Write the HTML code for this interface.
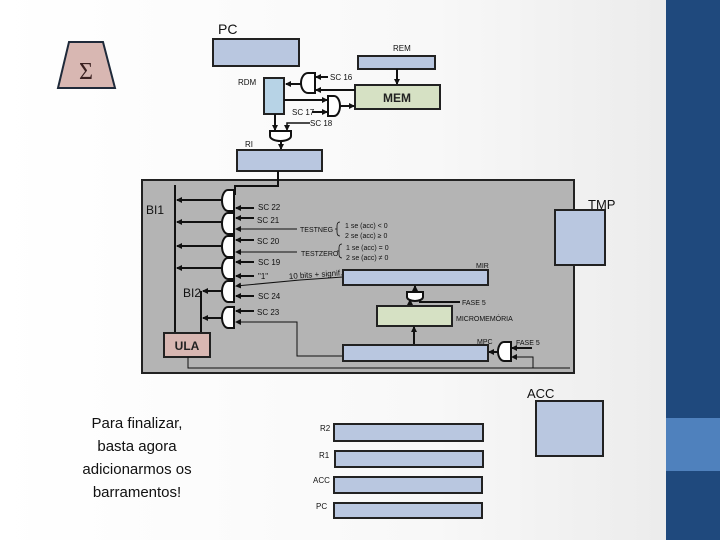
<!DOCTYPE html>
<html><head><meta charset="utf-8"><style>
html,body{margin:0;padding:0;}
body{width:720px;height:540px;overflow:hidden;background:linear-gradient(90deg,#ffffff 0%,#f8f8f8 60%,#ececec 92%);font-family:"Liberation Sans",sans-serif;}
svg{position:absolute;left:0;top:0;}
.s{font-family:"Liberation Sans",sans-serif;font-size:8px;fill:#111;}
</style></head><body>
<svg width="720" height="540" viewBox="0 0 720 540">
<defs>
<marker id="a" markerWidth="6" markerHeight="6" refX="5" refY="3" orient="auto" markerUnits="userSpaceOnUse"><path d="M0,0L6,3L0,6Z" fill="#111"/></marker>
</defs>
<rect x="666" y="0" width="54" height="540" fill="#1f497d"/>
<rect x="666" y="418" width="54" height="53" fill="#4f81bd"/>

<path d="M69,42H103L115,88H58Z" fill="#d8b7b2" stroke="#1f2a3a" stroke-width="2"/>
<text x="86" y="79" font-family="Liberation Serif,serif" font-size="24" fill="#3a2020" text-anchor="middle">Σ</text>

<text x="218" y="34" font-size="14" fill="#111">PC</text>
<rect x="213" y="39" width="86" height="27" fill="#b9c7e0" stroke="#222" stroke-width="2"/>
<text x="393" y="51" class="s">REM</text>
<rect x="358" y="56" width="77" height="13" fill="#b9c7e0" stroke="#222" stroke-width="2"/>
<line x1="397" y1="69" x2="397" y2="84" stroke="#111" stroke-width="2" marker-end="url(#a)"/>
<rect x="355" y="85" width="85" height="24" fill="#d6e1c4" stroke="#222" stroke-width="2"/>
<text x="397" y="102" font-size="12" font-weight="bold" fill="#222" text-anchor="middle">MEM</text>
<text x="238" y="85" class="s">RDM</text>
<rect x="264" y="78" width="20" height="36" fill="#b7d3e6" stroke="#222" stroke-width="2"/>
<path d="M315,73H308A7,10 0 0 0 308,93H315Z" fill="#fff" stroke="#111" stroke-width="2"/>
<line x1="301" y1="84" x2="286" y2="84" stroke="#111" stroke-width="2" marker-end="url(#a)"/>
<line x1="328" y1="77" x2="316" y2="77" stroke="#111" stroke-width="2" marker-end="url(#a)"/>
<line x1="355" y1="90" x2="316" y2="90" stroke="#111" stroke-width="2" marker-end="url(#a)"/>
<text x="330" y="80" class="s">SC 16</text>
<path d="M328,96H334A6,10 0 0 1 334,116H328Z" fill="#fff" stroke="#111" stroke-width="2"/>
<line x1="284" y1="100" x2="327" y2="100" stroke="#111" stroke-width="2" marker-end="url(#a)"/>
<line x1="312" y1="112" x2="327" y2="112" stroke="#111" stroke-width="2" marker-end="url(#a)"/>
<line x1="340" y1="106" x2="354" y2="106" stroke="#111" stroke-width="2" marker-end="url(#a)"/>
<text x="292" y="115" class="s">SC 17</text>
<path d="M270,131H291V136A10.5,5 0 0 1 270,136Z" fill="#fff" stroke="#111" stroke-width="2"/>
<line x1="275" y1="114" x2="275" y2="130" stroke="#111" stroke-width="2" marker-end="url(#a)"/>
<polyline points="310,123 287,123 287,130" fill="none" stroke="#111" stroke-width="1.5" marker-end="url(#a)"/>
<text x="310" y="126" class="s">SC 18</text>
<line x1="281" y1="141" x2="281" y2="149" stroke="#111" stroke-width="2" marker-end="url(#a)"/>
<text x="245" y="147" class="s">RI</text>
<rect x="237" y="150" width="85" height="21" fill="#b9c7e0" stroke="#222" stroke-width="2"/>

<rect x="142" y="180" width="432" height="193" fill="#b4b4b4" stroke="#222" stroke-width="2"/>
<polyline points="278,171 278,186 235,186 235,195" fill="none" stroke="#111" stroke-width="2"/>
<text x="146" y="214" font-size="12" fill="#111">BI1</text>
<line x1="175" y1="185" x2="175" y2="333" stroke="#111" stroke-width="2"/>
<text x="183" y="297" font-size="12" fill="#111">BI2</text>
<line x1="201" y1="291" x2="201" y2="333" stroke="#111" stroke-width="2"/>
<rect x="164" y="333" width="46" height="24" fill="#d8b7b2" stroke="#222" stroke-width="2"/>
<text x="187" y="350" font-size="12" font-weight="bold" fill="#222" text-anchor="middle">ULA</text>
<polyline points="188,357 188,368 570,368" fill="none" stroke="#111" stroke-width="1"/>

<g stroke="#111" stroke-width="2" fill="#fff">
<path d="M234,190H228A6,10.5 0 0 0 228,211H234Z"/>
<path d="M234,213H228A6,10.5 0 0 0 228,234H234Z"/>
<path d="M234,236H228A6,10.5 0 0 0 228,257H234Z"/>
<path d="M234,258H228A6,10.5 0 0 0 228,279H234Z"/>
<path d="M234,281H228A6,10.5 0 0 0 228,302H234Z"/>
<path d="M234,307H228A6,10.5 0 0 0 228,328H234Z"/>
</g>
<g stroke="#111" stroke-width="2" marker-end="url(#a)">
<line x1="222" y1="200" x2="177" y2="200"/>
<line x1="222" y1="222" x2="177" y2="222"/>
<line x1="222" y1="246" x2="177" y2="246"/>
<line x1="222" y1="268" x2="177" y2="268"/>
<line x1="222" y1="291" x2="203" y2="291"/>
<line x1="222" y1="318" x2="203" y2="318"/>
<line x1="254" y1="208" x2="236" y2="208"/>
<line x1="254" y1="218" x2="236" y2="218"/>
<line x1="254" y1="240" x2="236" y2="240"/>
<line x1="254" y1="262" x2="236" y2="262"/>
<line x1="254" y1="276" x2="236" y2="276"/>
<line x1="254" y1="296" x2="236" y2="296"/>
<line x1="254" y1="311" x2="236" y2="311"/>
</g>
<g stroke="#111" stroke-width="1" marker-end="url(#a)" fill="none">
<line x1="297" y1="229" x2="236" y2="229"/>
<line x1="297" y1="252" x2="236" y2="252"/>
<polyline points="343,277 300,280 236,286"/>
<polyline points="343,356 297,356 297,322 236,322"/>
</g>
<g class="s">
<text x="258" y="210">SC 22</text>
<text x="257" y="223">SC 21</text>
<text x="257" y="244">SC 20</text>
<text x="258" y="265">SC 19</text>
<text x="258" y="279">"1"</text>
<text x="258" y="299">SC 24</text>
<text x="257" y="315">SC 23</text>
<text x="300" y="232" font-size="7">TESTNEG</text>
<text x="301" y="256" font-size="7">TESTZERO</text>
<text x="345" y="228" font-size="7">1 se (acc) &lt; 0</text>
<text x="345" y="238" font-size="7">2 se (acc) ≥ 0</text>
<text x="346" y="250" font-size="7">1 se (acc) = 0</text>
<text x="346" y="260" font-size="7">2 se (acc) ≠ 0</text>
<text x="289" y="279" font-size="8" transform="rotate(-4 289 279)">10 bits + signif.</text>
<text x="476" y="268" font-size="7">MIR</text>
<text x="462" y="305" font-size="7">FASE 5</text>
<text x="456" y="321" font-size="7">MICROMEMÓRIA</text>
<text x="477" y="344" font-size="7">MPC</text>
<text x="516" y="345" font-size="7">FASE 5</text>
</g>
<path d="M340,222Q337,222 337,226V229H335H337V232Q337,236 340,236" fill="none" stroke="#111" stroke-width="0.8"/>
<path d="M342,244Q339,244 339,248V251H337H339V254Q339,258 342,258" fill="none" stroke="#111" stroke-width="0.8"/>
<rect x="343" y="270" width="145" height="15" fill="#b9c7e0" stroke="#222" stroke-width="2"/>
<path d="M407,292H423V297A8,4 0 0 1 407,297Z" fill="#fff" stroke="#111" stroke-width="2"/>
<line x1="415" y1="292" x2="415" y2="286" stroke="#111" stroke-width="2" marker-end="url(#a)"/>
<line x1="410" y1="306" x2="410" y2="300" stroke="#111" stroke-width="2" marker-end="url(#a)"/>
<polyline points="460,302 420,302 420,300" fill="none" stroke="#111" stroke-width="2"/>
<rect x="377" y="306" width="75" height="20" fill="#d6e1c4" stroke="#222" stroke-width="2"/>
<line x1="414" y1="345" x2="414" y2="327" stroke="#111" stroke-width="2" marker-end="url(#a)"/>
<rect x="343" y="345" width="145" height="16" fill="#b9c7e0" stroke="#222" stroke-width="2"/>
<path d="M511,342H504A6,9.5 0 0 0 504,361H511Z" fill="#fff" stroke="#111" stroke-width="2"/>
<line x1="498" y1="352" x2="489" y2="352" stroke="#111" stroke-width="2" marker-end="url(#a)"/>
<line x1="532" y1="348" x2="512" y2="348" stroke="#111" stroke-width="2" marker-end="url(#a)"/>
<polyline points="533,368 533,357 512,357" fill="none" stroke="#111" stroke-width="1" marker-end="url(#a)"/>

<text x="588" y="209" font-size="13" fill="#111">TMP</text>
<rect x="555" y="210" width="50" height="55" fill="#b9c7e0" stroke="#222" stroke-width="2"/>
<text x="527" y="398" font-size="13" fill="#111">ACC</text>
<rect x="536" y="401" width="67" height="55" fill="#b9c7e0" stroke="#222" stroke-width="2"/>

<g font-size="15" fill="#111" text-anchor="middle" font-family="Liberation Sans,sans-serif">
<text x="137" y="428">Para finalizar,</text>
<text x="137" y="451">basta agora</text>
<text x="137" y="474">adicionarmos os</text>
<text x="137" y="497">barramentos!</text>
</g>

<g fill="#b9c7e0" stroke="#222" stroke-width="2">
<rect x="334" y="424" width="149" height="17"/>
<rect x="335" y="451" width="148" height="16"/>
<rect x="334" y="477" width="148" height="16"/>
<rect x="334" y="503" width="148" height="15"/>
</g>
<g class="s">
<text x="320" y="431">R2</text>
<text x="319" y="458">R1</text>
<text x="313" y="483">ACC</text>
<text x="316" y="509">PC</text>
</g>
</svg>
</body></html>
